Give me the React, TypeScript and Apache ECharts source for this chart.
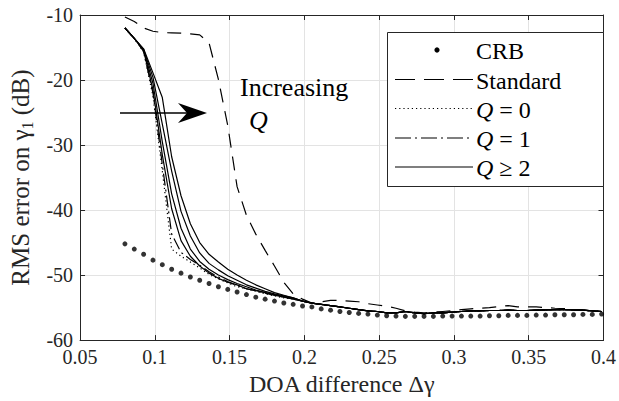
import React, { useEffect, useRef } from "react";
import * as echarts from "echarts";

// DOA difference grid (x values)
const doa = [0.08, 0.08625, 0.0925, 0.09875, 0.105, 0.11125, 0.1175, 0.12375, 0.13, 0.13625, 0.1425, 0.14875, 0.155, 0.16125, 0.1675, 0.17375, 0.18, 0.18625, 0.1925, 0.19875, 0.205, 0.21125, 0.2175, 0.22375, 0.23, 0.23625, 0.2425, 0.24875, 0.255, 0.26125, 0.2675, 0.27375, 0.28, 0.28625, 0.2925, 0.29875, 0.305, 0.31125, 0.3175, 0.32375, 0.33, 0.33625, 0.3425, 0.34875, 0.355, 0.36125, 0.3675, 0.37375, 0.38, 0.38625, 0.3925, 0.39875];

const crb = [-45.2, -46.0, -46.8, -47.7, -48.4, -49.1, -49.7, -50.3, -50.8, -51.3, -51.8, -52.2, -52.6, -53.0, -53.4, -53.7, -54.0, -54.3, -54.5, -54.75, -54.9, -55.2, -55.4, -55.6, -55.75, -55.9, -56.0, -56.15, -56.25, -56.3, -56.35, -56.35, -56.35, -56.35, -56.3, -56.3, -56.3, -56.3, -56.3, -56.25, -56.25, -56.2, -56.2, -56.2, -56.15, -56.15, -56.1, -56.1, -56.1, -56.05, -56.05, -56.0];

const standard = [-10.3, -11.0, -12.0, -12.5, -12.7, -12.75, -12.8, -12.9, -13.05, -14.3, -19.9, -27.0, -36.4, -40.8, -43.7, -46.2, -48.6, -51.1, -52.9, -53.7, -54.3, -54.1, -53.9, -53.9, -54.0, -54.1, -54.4, -54.6, -54.8, -55.1, -55.5, -55.7, -55.8, -55.7, -55.6, -55.5, -55.3, -55.2, -55.1, -55.0, -54.85, -54.7, -54.9, -54.9, -54.9, -55.0, -55.1, -55.15, -55.3, -55.4, -55.5, -55.6];

// shared start (indices 0-1) and shared tail (indices 19-51) of the proposed-method curves
const qTrunk = [-12.0, -13.6];
const qTail = [-54.0, -54.3, -54.5, -54.7, -54.9, -55.1, -55.3, -55.5, -55.6, -55.8, -55.8, -55.6, -55.8, -55.95, -55.8, -55.8, -55.7, -55.6, -55.5, -55.5, -55.45, -55.45, -55.4, -55.45, -55.45, -55.4, -55.35, -55.3, -55.3, -55.35, -55.4, -55.5, -55.6];

// indices 2-18 for each curve
const q0Head = [-15.7, -22.5, -34.0, -46.0, -47.1, -48.0, -48.9, -49.9, -50.6, -51.2, -51.8, -52.1, -52.5, -52.9, -53.2, -53.5, -53.7];
const q1Head = [-15.6, -22.0, -33.0, -43.7, -46.5, -47.6, -48.5, -49.5, -50.3, -51.0, -51.6, -52.1, -52.4, -52.8, -53.1, -53.4, -53.6];
const q2Head = [-15.5, -21.5, -31.5, -39.8, -44.7, -47.1, -48.6, -49.7, -50.5, -51.1, -51.5, -52.1, -52.4, -52.7, -53.1, -53.4, -53.7];
const q3Head = [-15.4, -20.5, -29.5, -37.5, -42.8, -46.0, -47.9, -49.1, -50.0, -50.7, -51.3, -51.8, -52.3, -52.7, -53.0, -53.3, -53.6];
const q4Head = [-15.3, -19.6, -26.8, -34.0, -40.2, -44.0, -46.6, -48.2, -49.2, -50.1, -50.8, -51.5, -52.0, -52.5, -52.9, -53.2, -53.5];
const q5Head = [-15.2, -18.9, -22.7, -31.8, -37.8, -42.1, -45.0, -46.8, -48.0, -49.1, -50.0, -50.8, -51.5, -52.1, -52.7, -53.1, -53.5];

const xTicks = { min: 0.05, max: 0.4, interval: 0.05 };
const yTicks = { min: -60, max: -10, interval: 10 };

const legendLabels = ["CRB", "Standard", "{i|Q} = 0", "{i|Q} = 1", "{i|Q} ≥ 2"];

const FONT = "'Liberation Serif', 'DejaVu Serif', 'Times New Roman', Times, serif";
const AX = "#262626";

function pairs(vals: number[]) {
  return doa.map((x, i) => [x, vals[i]]);
}
function qCurve(head: number[]) {
  return pairs([...qTrunk, ...head, ...qTail]);
}

export default function App() {
  const ref = useRef<HTMLDivElement>(null);
  useEffect(() => {
    if (!ref.current) return;
    const chart = echarts.init(ref.current, undefined, { renderer: "svg" });
    const solid = { color: "#000", width: 1.2, type: "solid" as const };
    const lineBase = {
      type: "line" as const,
      showSymbol: false,
      symbol: "none",
      xAxisIndex: 0,
      yAxisIndex: 0,
      silent: true,
    };
    const legendRows = [50, 79.5, 108.5, 138, 167];
    const legendGraphics: any[] = [
      {
        type: "rect",
        z: 100,
        shape: { x: 387.5, y: 32.5, width: 216, height: 154 },
        style: { fill: "#fff", stroke: AX, lineWidth: 1 },
      },
      { type: "circle", z: 101, shape: { cx: 437, cy: legendRows[0], r: 2.6 }, style: { fill: "#000" } },
      { type: "line", z: 101, shape: { x1: 395, y1: legendRows[1], x2: 473, y2: legendRows[1] }, style: { stroke: "#000", lineWidth: 1.2, lineDash: [20, 9] } },
      { type: "line", z: 101, shape: { x1: 395, y1: legendRows[2], x2: 473, y2: legendRows[2] }, style: { stroke: "#000", lineWidth: 1.2, lineDash: [1.2, 3] } },
      { type: "line", z: 101, shape: { x1: 395, y1: legendRows[3], x2: 473, y2: legendRows[3] }, style: { stroke: "#000", lineWidth: 1.2, lineDash: [16, 4, 2, 4] } },
      { type: "line", z: 101, shape: { x1: 395, y1: legendRows[4], x2: 473, y2: legendRows[4] }, style: { stroke: "#000", lineWidth: 1.2 } },
      ...legendLabels.map((t, i) => ({
        type: "text",
        z: 101,
        x: 476,
        y: legendRows[i] + 1,
        style: {
          text: t,
          fontFamily: FONT,
          fontSize: 24,
          fill: "#000",
          align: "left",
          verticalAlign: "middle",
          rich: { i: { fontStyle: "italic", fontFamily: FONT, fontSize: 24, fill: "#000" } },
        },
      })),
    ];
    const annotation: any[] = [
      { type: "line", z: 90, shape: { x1: 120, y1: 113, x2: 190, y2: 113 }, style: { stroke: "#000", lineWidth: 1.5 } },
      { type: "polygon", z: 90, shape: { points: [[178, 103], [207, 113], [178, 123], [187, 113]] }, style: { fill: "#000" } },
      { type: "text", z: 90, x: 240, y: 87, style: { text: "Increasing", fontFamily: FONT, fontSize: 26, fill: "#000", align: "left", verticalAlign: "middle" } },
      { type: "text", z: 90, x: 249, y: 120, style: { text: "Q", fontFamily: FONT, fontSize: 26, fontStyle: "italic", fill: "#000", align: "left", verticalAlign: "middle" } },
    ];

    const axisCommonX = {
      type: "value" as const,
      min: xTicks.min,
      max: xTicks.max,
      interval: xTicks.interval,
      axisLine: { show: true, lineStyle: { color: AX, width: 1 } },
      axisTick: { show: true, inside: true, length: 5, lineStyle: { color: AX } },
    };
    const axisCommonY = {
      type: "value" as const,
      min: yTicks.min,
      max: yTicks.max,
      interval: yTicks.interval,
      axisLine: { show: true, lineStyle: { color: AX, width: 1 } },
      axisTick: { show: true, inside: true, length: 5, lineStyle: { color: AX } },
    };

    chart.setOption({
      animation: false,
      backgroundColor: "#fff",
      textStyle: { fontFamily: FONT },
      grid: { left: 77, right: 13, top: 15, bottom: 58, containLabel: false },
      xAxis: [
        {
          ...axisCommonX,
          position: "bottom",
          name: "DOA difference Δγ",
          nameLocation: "middle",
          nameGap: 30,
          nameTextStyle: { fontFamily: FONT, fontSize: 24, color: AX },
          axisLabel: {
            margin: 7,
            fontFamily: FONT,
            fontSize: 20,
            color: AX,
            formatter: (v: number) => String(+v.toFixed(2)),
          },
          splitLine: { show: true, lineStyle: { color: "#e3e3e3", width: 1 } },
        },
        {
          ...axisCommonX,
          position: "top",
          axisLabel: { show: false },
          splitLine: { show: false },
        },
      ],
      yAxis: [
        {
          ...axisCommonY,
          position: "left",
          name: "{a|RMS error on γ}{s|1}{a| (dB)}",
          nameLocation: "middle",
          nameGap: 42,
          nameRotate: 90,
          nameTextStyle: {
            fontFamily: FONT,
            fontSize: 25,
            color: AX,
            rich: {
              a: { fontFamily: FONT, fontSize: 25, lineHeight: 30, color: AX },
              s: { fontFamily: FONT, fontSize: 16, lineHeight: 14, color: AX, verticalAlign: "bottom" },
            },
          },
          axisLabel: { margin: 7, fontFamily: FONT, fontSize: 20, color: AX },
          splitLine: { show: true, lineStyle: { color: "#e3e3e3", width: 1 } },
        },
        {
          ...axisCommonY,
          position: "right",
          axisLabel: { show: false },
          splitLine: { show: false },
        },
      ],
      series: [
        {
          name: "CRB",
          type: "scatter",
          xAxisIndex: 0,
          yAxisIndex: 0,
          symbol: "circle",
          symbolSize: 5,
          itemStyle: { color: "#000" },
          data: pairs(crb),
          silent: true,
          z: 3,
        },
        { ...lineBase, name: "Standard", data: pairs(standard), lineStyle: { color: "#000", width: 1.2, type: [14, 9] } },
        { ...lineBase, name: "Q = 0", data: qCurve(q0Head), lineStyle: { color: "#000", width: 1.2, type: [1.2, 3] } },
        { ...lineBase, name: "Q = 1", data: qCurve(q1Head), lineStyle: { color: "#000", width: 1.2, type: [12, 4, 2, 4] } },
        { ...lineBase, name: "Q ≥ 2", data: qCurve(q2Head), lineStyle: solid },
        { ...lineBase, name: "Q ≥ 2", data: qCurve(q3Head), lineStyle: solid },
        { ...lineBase, name: "Q ≥ 2", data: qCurve(q4Head), lineStyle: solid },
        { ...lineBase, name: "Q ≥ 2", data: qCurve(q5Head), lineStyle: solid },
      ],
      graphic: [...annotation, ...legendGraphics],
    });
    return () => chart.dispose();
  }, []);
  return (
    <div
      ref={ref}
      style={{ position: "absolute", left: 0, top: 0, width: 619, height: 401, background: "#fff" }}
    />
  );
}
